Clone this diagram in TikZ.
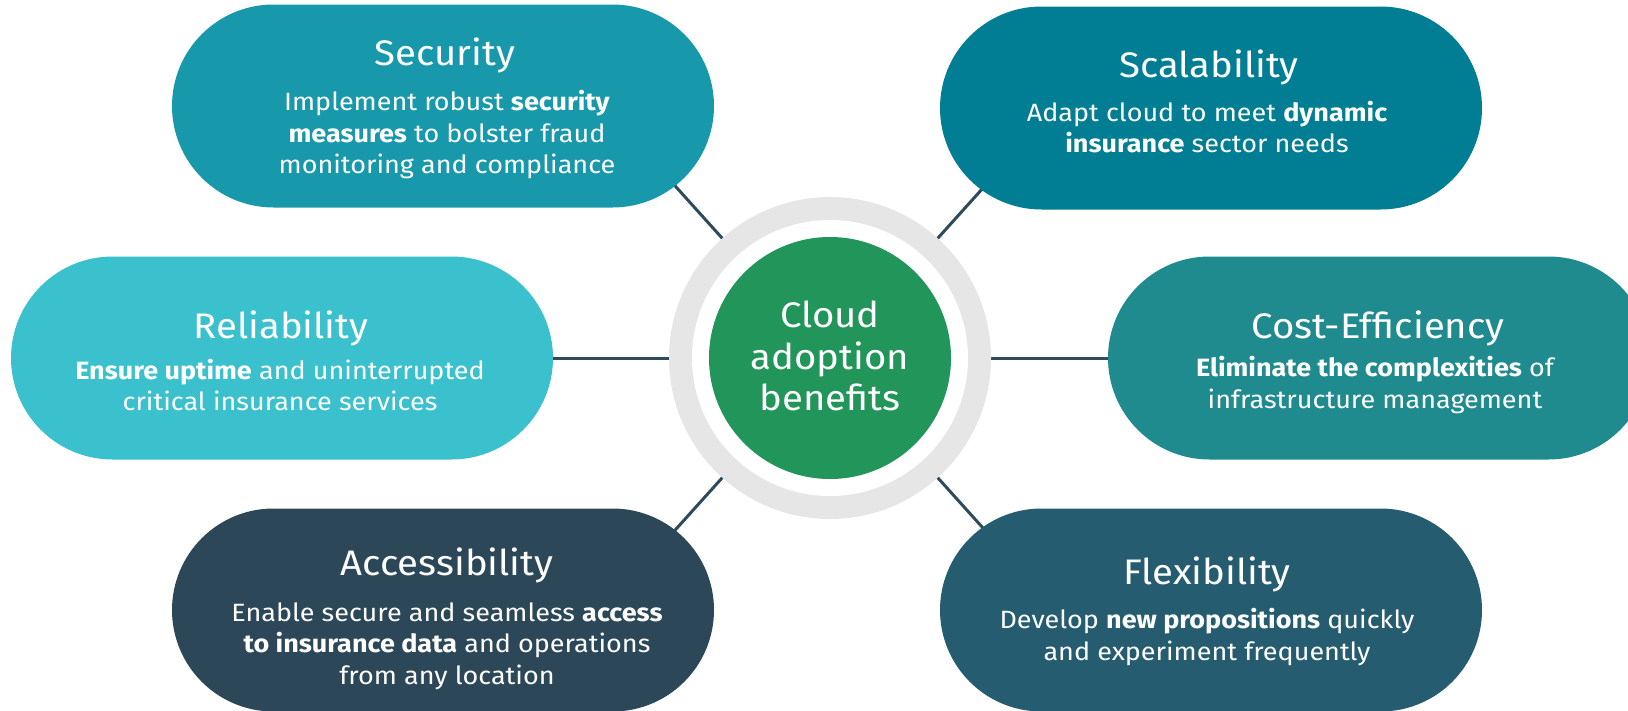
\documentclass[tikz,border=0pt]{standalone}
\usepackage{fontspec}
\setmainfont{Fira Sans}[FakeStretch=1.08]
\usetikzlibrary{shapes.misc,backgrounds}

\definecolor{secC}{HTML}{1899AB}
\definecolor{scaC}{HTML}{017E94}
\definecolor{relC}{HTML}{3BC1CD}
\definecolor{costC}{HTML}{208B8F}
\definecolor{accC}{HTML}{2C4858}
\definecolor{flexC}{HTML}{265C70}
\definecolor{hubC}{HTML}{21955A}
\definecolor{ringC}{HTML}{E6E6E6}
\definecolor{linkC}{HTML}{2E4A5C}

\tikzset{
  pill/.style={rounded rectangle, minimum width=542pt, minimum height=203pt,
               inner sep=0pt, draw=none, fill=#1},
  ptitle/.style={text=white, font=\fontsize{35.5}{38}\selectfont, inner sep=0pt, anchor=center},
  pbody/.style={text=white, font=\fontsize{25}{31.5}\selectfont, align=center,
                inner sep=0pt, anchor=center},
  link/.style={draw=linkC, line width=3pt},
}

\begin{document}
\begin{tikzpicture}[x=1pt,y=-1pt]
\useasboundingbox (0,0) rectangle (1628,710);
\clip (0,0) rectangle (1628,710);

% hub with its grey ring
\node[circle, fill=ringC, minimum size=322pt, inner sep=0pt] (ring) at (830,358) {};
\node[circle, fill=white, minimum size=276pt, inner sep=0pt] (gap) at (830,358) {};
\node[circle, fill=hubC, minimum size=242pt, inner sep=0pt] (hub) at (830,358) {};
\node[text=white, font=\fontsize{35.5}{41.5}\selectfont, align=center] (hubtext) at (830,356)
  {Cloud\\adoption\\benefits};

% benefit pills
\node[pill=secC]  (sec)  at (443,106) {};
\node[pill=scaC]  (sca)  at (1211,108) {};
\node[pill=relC]  (rel)  at (282,358) {};
\node[pill=costC] (cost) at (1379,358) {};
\node[pill=accC]  (acc)  at (443,610) {};
\node[pill=flexC] (flex) at (1211,610) {};

% spoke ends, hidden inside the pills
\coordinate (secEnd)  at (614,118);
\coordinate (scaEnd)  at (1046,118);
\coordinate (relEnd)  at (500,358);
\coordinate (costEnd) at (1160,358);
\coordinate (accEnd)  at (614,598);
\coordinate (flexEnd) at (1046,598);

\begin{scope}[on background layer]
  \draw[link] (hub.center) -- (secEnd);
  \draw[link] (hub.center) -- (scaEnd);
  \draw[link] (hub.center) -- (relEnd);
  \draw[link] (hub.center) -- (costEnd);
  \draw[link] (hub.center) -- (accEnd);
  \draw[link] (hub.center) -- (flexEnd);
\end{scope}

% texts
\node[ptitle] (secT) at (445,55) {Security};
\node[pbody] (secB) at (447,135) {Implement robust \textbf{security}\\\textbf{measures} to bolster fraud\\monitoring and compliance};

\node[ptitle] (scaT) at (1209,67) {Scalability};
\node[pbody] (scaB) at (1207,127) {Adapt cloud to meet \textbf{dynamic}\\\textbf{insurance} sector needs};

\node[ptitle] (relT) at (281,328) {Reliability};
\node[pbody] (relB) at (280,385) {\textbf{Ensure uptime} and uninterrupted\\critical insurance services};

\node[ptitle] (costT) at (1378,328) {Cost-Efficiency};
\node[pbody] (costB) at (1375,385) {\textbf{Eliminate the complexities} of\\infrastructure management};

\node[ptitle] (accT) at (447,565) {Accessibility};
\node[pbody] (accB) at (447,646) {Enable secure and seamless \textbf{access}\\\textbf{to insurance data} and operations\\from any location};

\node[ptitle] (flexT) at (1207,574) {Flexibility};
\node[pbody] (flexB) at (1207,637) {Develop \textbf{new propositions} quickly\\and experiment frequently};
\end{tikzpicture}
\end{document}
